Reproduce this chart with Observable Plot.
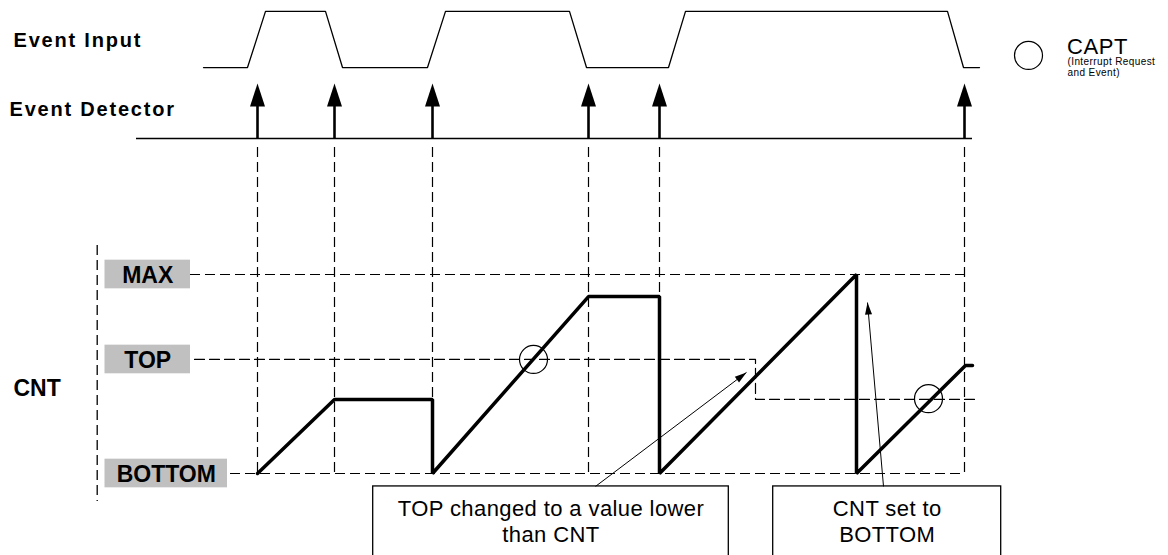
<!DOCTYPE html>
<html>
<head>
<meta charset="utf-8">
<script src="https://cdn.jsdelivr.net/npm/d3@7"></script>
<script src="https://cdn.jsdelivr.net/npm/@observablehq/plot@0.6"></script>
<style>
  html, body { margin: 0; padding: 0; background: #fff; overflow: hidden; }
  .sp18 text { letter-spacing: 1.8px; }
  .sp07 text { letter-spacing: 0.6px; }
  .sp05 text { letter-spacing: 0.4px; }
</style>
</head>
<body>
<div id="chart"></div>
<script>
// ---------------- data (time units on x, CNT level units on y: BOTTOM = 0, MAX = 100) ----------------
const inputTimes  = [203, 247, 265, 325, 342, 427, 445, 569, 586, 668, 685, 947, 963, 979];
const inputStates = [0, 0, 1, 1, 0, 0, 1, 1, 0, 0, 1, 1, 0, 0];

const eventTimes = [257, 334, 432, 588, 659, 964];

const cntTimes  = [257, 334, 432, 432, 588, 659, 659, 856, 856, 965, 972];
const cntValues = [0, 37.2, 37.2, 0, 88.9, 88.9, 0, 100, 0, 54.3, 54.3];

const levelNames  = ["MAX", "TOP", "BOTTOM"];
const levelValues = [100, 57.3, 0];

const topTimes  = [194, 755, 976];
const topValues = [57.3, 37.2, 37.2];

const captTimes  = [533, 928];
const captValues = [57.3, 37.6];

const noteLine1 = ["TOP changed to a value lower", "CNT set to"];
const noteLine2 = ["than CNT", "BOTTOM"];
const noteTargetTimes  = [746, 867];
const noteTargetValues = [50.8, 85.9];

const rowTitles = ["Event Input", "Event Detector"];

const legendTitle = "CAPT";
const legendSub = ["(Interrupt Request", "and Event)"];

// ---------------- layout lanes (in the same y units) ----------------
const lane = {
  inLow: 204, inHigh: 232.2,
  detBase: 168.3, detTip: 196, guideTop: 163.8,
  axisTop: 114.6, axisBottom: -14.1,
  noteTop: -6.5, noteBottom: -50,
  legend: 210.1
};

// ---------------- derived tables ----------------
const inputWave = inputTimes.map((t, i) => ({t, v: inputStates[i] ? lane.inHigh : lane.inLow}));
const cnt = cntTimes.map((t, i) => ({t, v: cntValues[i]}));
const levels = levelNames.map((name, i) => ({name, v: levelValues[i]}));
const topStep = topTimes.map((t, i) => ({t, v: topValues[i]}));
const capts = captTimes.map((t, i) => ({t, v: captValues[i]}));

const yDomain = [0, 100], yRange = [473, 274];
const xDomain = [0, 1168], xRange = [0, 1168];
const kx = (xRange[1] - xRange[0]) / (xDomain[1] - xDomain[0]);
const ky = (yRange[0] - yRange[1]) / (yDomain[1] - yDomain[0]);

const notes = noteLine1.map((l1, i) => ({
  l1, l2: noteLine2[i],
  x1: [372.7, 772.7][i], x2: [728.3, 1000.7][i],
  sx: [595, 883][i], sy: lane.noteTop,
  tx: noteTargetTimes[i], ty: noteTargetValues[i]
}));
notes.forEach(n => {
  n.cx = (n.x1 + n.x2) / 2;
  n.rot = Math.atan2((n.tx - n.sx) * kx, (n.ty - n.sy) * ky) * 180 / Math.PI;
});

// custom arrow-head symbols (tip at the anchor, pointing up)
const bigHead = {draw(ctx, size) {
  const r = Math.sqrt(size / Math.PI);
  ctx.moveTo(0, 0); ctx.lineTo(-0.75 * r, 2.3 * r); ctx.lineTo(0.75 * r, 2.3 * r); ctx.closePath();
}};
const smallHead = {draw(ctx, size) {
  const r = Math.sqrt(size / Math.PI);
  ctx.moveTo(0, 0); ctx.lineTo(-0.7 * r, 2.4 * r); ctx.lineTo(0.7 * r, 2.4 * r); ctx.closePath();
}};

const dash = "10,5";
const labelBoxEnd = {MAX: 190, TOP: 190, BOTTOM: 227};
const levelLineStart = {MAX: 190, BOTTOM: 230};
const levelLineEnd = {MAX: 970, BOTTOM: 964};

const chart = Plot.plot({
  width: 1168,
  height: 555,
  margin: 0,
  x: {domain: xDomain, range: xRange, axis: null},
  y: {domain: yDomain, range: yRange, axis: null},
  style: {fontFamily: "'Liberation Sans', Arial, Helvetica, sans-serif", background: "#fff", color: "#000", overflow: "hidden"},
  marks: [
    // left dashed axis
    Plot.ruleX([96.7], {x: d => d, y1: lane.axisTop, y2: lane.axisBottom, stroke: "#000", strokeWidth: 1.3, strokeDasharray: dash}),
    // vertical guide lines from events
    Plot.ruleX(eventTimes, {x: d => d, y1: lane.guideTop, y2: 0, stroke: "#000", strokeWidth: 1.2, strokeDasharray: dash}),
    // MAX and BOTTOM dashed levels
    Plot.ruleY(levels.filter(d => d.name !== "TOP"), {y: "v", x1: d => levelLineStart[d.name], x2: d => levelLineEnd[d.name], stroke: "#000", strokeWidth: 1.2, strokeDasharray: dash}),
    // TOP dashed level (changes value)
    Plot.line(topStep, {x: "t", y: "v", curve: "step-after", stroke: "#000", strokeWidth: 1.2, strokeDasharray: dash}),
    // gray level label boxes
    Plot.rect(levels, {x1: 104.5, x2: d => labelBoxEnd[d.name], y1: d => d.v - 7.2, y2: d => d.v + 7.2, fill: "#c0c0c0"}),
    Plot.text(levels, {x: d => (104.5 + labelBoxEnd[d.name]) / 2, y: "v", text: "name", fontSize: 23, fontWeight: "bold", dy: 1}),
    // event input waveform
    Plot.line(inputWave, {x: "t", y: "v", stroke: "#000", strokeWidth: 1.3}),
    // event detector baseline and arrows
    Plot.ruleY([lane.detBase], {y: d => d, x1: 136, x2: 972, stroke: "#000", strokeWidth: 1.5}),
    Plot.ruleX(eventTimes, {x: d => d, y1: lane.detBase, y2: lane.detTip - 8, stroke: "#000", strokeWidth: 2.6}),
    Plot.dot(eventTimes, {x: d => d, y: lane.detTip, symbol: bigHead, r: 10, fill: "#000", stroke: "none"}),
    // CNT waveform
    Plot.line(cnt, {x: "t", y: "v", stroke: "#000", strokeWidth: 3.5, strokeLinejoin: "miter"}),
    // capture circles
    Plot.dot(capts, {x: "t", y: "v", r: 14, stroke: "#000", strokeWidth: 1.2, fill: "none"}),
    // annotation boxes
    Plot.rect(notes, {x1: "x1", x2: "x2", y1: lane.noteBottom, y2: "sy", fill: "#fff", stroke: "#000", strokeWidth: 1.3}),
    Plot.text(notes, {x: "cx", y: -21.6, text: "l1", fontSize: 22, lineAnchor: "bottom", className: "sp05"}),
    Plot.text(notes, {x: "cx", y: -34.5, text: "l2", fontSize: 22, lineAnchor: "bottom", className: "sp05"}),
    Plot.link(notes, {x1: "sx", y1: "sy", x2: "tx", y2: "ty", stroke: "#000", strokeWidth: 1}),
    Plot.dot(notes, {x: "tx", y: "ty", symbol: smallHead, r: 5, rotate: "rot", fill: "#000", stroke: "none"}),
    // row titles
    Plot.text(rowTitles, {x: [13, 9], y: [214.2, 179.4], text: d => d, textAnchor: "start", lineAnchor: "bottom", fontSize: 20, fontWeight: "bold", className: "sp18"}),
    Plot.text(["CNT"], {x: 13, y: 38.7, text: d => d, textAnchor: "start", lineAnchor: "bottom", fontSize: 23, fontWeight: "bold"}),
    // legend
    Plot.dot([legendTitle], {x: 1028, y: lane.legend, r: 14, stroke: "#000", strokeWidth: 1.2, fill: "none"}),
    Plot.text([legendTitle], {x: 1066.5, y: 210.6, text: d => d, textAnchor: "start", lineAnchor: "bottom", fontSize: 22, className: "sp07"}),
    Plot.text(legendSub, {x: 1067, y: [205.5, 200], text: d => d, textAnchor: "start", lineAnchor: "bottom", fontSize: 10, className: "sp05"})
  ]
});

document.getElementById("chart").appendChild(chart);
</script>
</body>
</html>
